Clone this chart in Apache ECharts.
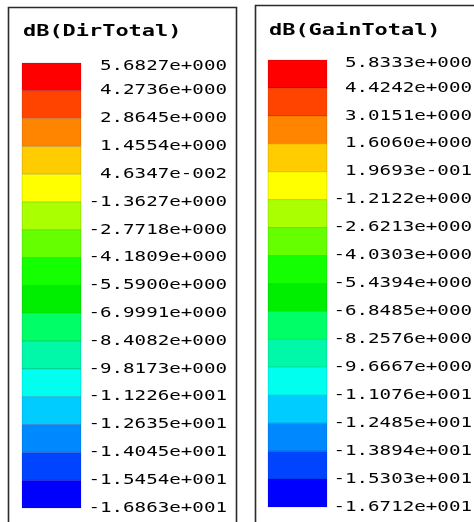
<!DOCTYPE html>
<html>
<head>
<meta charset="utf-8">
<script src="https://cdn.jsdelivr.net/npm/echarts@6/dist/echarts.min.js"></script>
<style>
  html, body { margin: 0; padding: 0; background: #ffffff; }
  #chart { width: 474px; height: 522px; }
</style>
</head>
<body>
<div id="chart"></div>
<script>
// Legend titles
const dirTitle = 'dB(DirTotal)';
const gainTitle = 'dB(GainTotal)';

// Level boundaries, top (max) to bottom (min), as printed on each scale
const dirTickLabels = [
  '5.6827e+000', '4.2736e+000', '2.8645e+000', '1.4554e+000', '4.6347e-002',
  '-1.3627e+000', '-2.7718e+000', '-4.1809e+000', '-5.5900e+000', '-6.9991e+000',
  '-8.4082e+000', '-9.8173e+000', '-1.1226e+001', '-1.2635e+001', '-1.4045e+001',
  '-1.5454e+001', '-1.6863e+001'
];
const gainTickLabels = [
  '5.8333e+000', '4.4242e+000', '3.0151e+000', '1.6060e+000', '1.9693e-001',
  '-1.2122e+000', '-2.6213e+000', '-4.0303e+000', '-5.4394e+000', '-6.8485e+000',
  '-8.2576e+000', '-9.6667e+000', '-1.1076e+001', '-1.2485e+001', '-1.3894e+001',
  '-1.5303e+001', '-1.6712e+001'
];

// One colour per band, from the highest band down to the lowest
const bandColors = [
  '#ff0000', '#ff4400', '#ff8400', '#ffcc00', '#ffff00', '#aaff00', '#66ff00', '#14ff00',
  '#00ef00', '#00ff66', '#00f8a8', '#00ffee', '#00ccff', '#0088ff', '#0044ff', '#0000ff'
];

const dirBounds = dirTickLabels.map(Number);
const gainBounds = gainTickLabels.map(Number);

// [category, low, high, colour index] for every band
function bandData(bounds) {
  const out = [];
  for (let i = 0; i < bounds.length - 1; i++) {
    out.push([0, bounds[i + 1], bounds[i], i]);
  }
  return out;
}

function renderBand(params, api) {
  const hi = api.coord([api.value(0), api.value(2)]);
  const lo = api.coord([api.value(0), api.value(1)]);
  const w = api.size([1, 0])[0];
  return {
    type: 'rect',
    shape: { x: hi[0] - w / 2, y: hi[1], width: w, height: lo[1] - hi[1] },
    style: { fill: bandColors[api.value(3)], stroke: 'rgba(0,0,60,0.13)', lineWidth: 1 }
  };
}

const chart = echarts.init(document.getElementById('chart'), null, { renderer: 'canvas' });

const hiddenAxis = { show: false };
chart.setOption({
  backgroundColor: '#ffffff',
  animation: false,
  grid: [
    { left: 22, top: 63, width: 59, height: 445 },
    { left: 268, top: 60, width: 59, height: 447 }
  ],
  xAxis: [
    Object.assign({ type: 'category', data: [dirTitle], gridIndex: 0 }, hiddenAxis),
    Object.assign({ type: 'category', data: [gainTitle], gridIndex: 1 }, hiddenAxis)
  ],
  yAxis: [
    Object.assign({ type: 'value', gridIndex: 0, min: dirBounds[dirBounds.length - 1], max: dirBounds[0] }, hiddenAxis),
    Object.assign({ type: 'value', gridIndex: 1, min: gainBounds[gainBounds.length - 1], max: gainBounds[0] }, hiddenAxis)
  ],
  series: [
    { type: 'custom', xAxisIndex: 0, yAxisIndex: 0, data: bandData(dirBounds), renderItem: renderBand, silent: true },
    { type: 'custom', xAxisIndex: 1, yAxisIndex: 1, data: bandData(gainBounds), renderItem: renderBand, silent: true }
  ]
});

// Wide fixed-pitch lettering, stretched horizontally
const LABEL_FONT = '14px "DejaVu Sans Mono", monospace';
const TITLE_FONT = 'bold 16px "DejaVu Sans Mono", monospace';
const STRETCH = 1.37;

function panelGraphics(axisIndex, labels, bounds, frame, title, labelRight) {
  const els = [];
  els.push({
    type: 'rect', z: 0,
    shape: frame,
    style: { fill: '#ffffff', stroke: '#2a2a2a', lineWidth: 1.6 }
  });
  els.push({
    type: 'text', z: 10,
    x: title.x, y: title.y, scaleX: STRETCH,
    style: { text: title.text, font: TITLE_FONT, fill: '#000000', align: 'left', verticalAlign: 'middle' }
  });
  const yTop = chart.convertToPixel({ yAxisIndex: axisIndex }, bounds[0]);
  labels.forEach(function (txt, i) {
    // each label sits on its boundary; the top one is kept inside the bar
    let y = chart.convertToPixel({ yAxisIndex: axisIndex }, bounds[i]);
    y = Math.max(y, yTop + 3);
    els.push({
      type: 'text', z: 10,
      x: labelRight, y: y, scaleX: STRETCH,
      style: { text: txt, font: LABEL_FONT, fill: '#000000', align: 'right', verticalAlign: 'middle' }
    });
  });
  return els;
}

chart.setOption({
  graphic: [].concat(
    panelGraphics(0, dirTickLabels, dirBounds,
      { x: 8.5, y: 7.5, width: 228, height: 530 },
      { text: dirTitle, x: 23, y: 32 }, 227),
    panelGraphics(1, gainTickLabels, gainBounds,
      { x: 255.5, y: 5.5, width: 240, height: 530 },
      { text: gainTitle, x: 269, y: 30.5 }, 472)
  )
});
</script>
</body>
</html>
